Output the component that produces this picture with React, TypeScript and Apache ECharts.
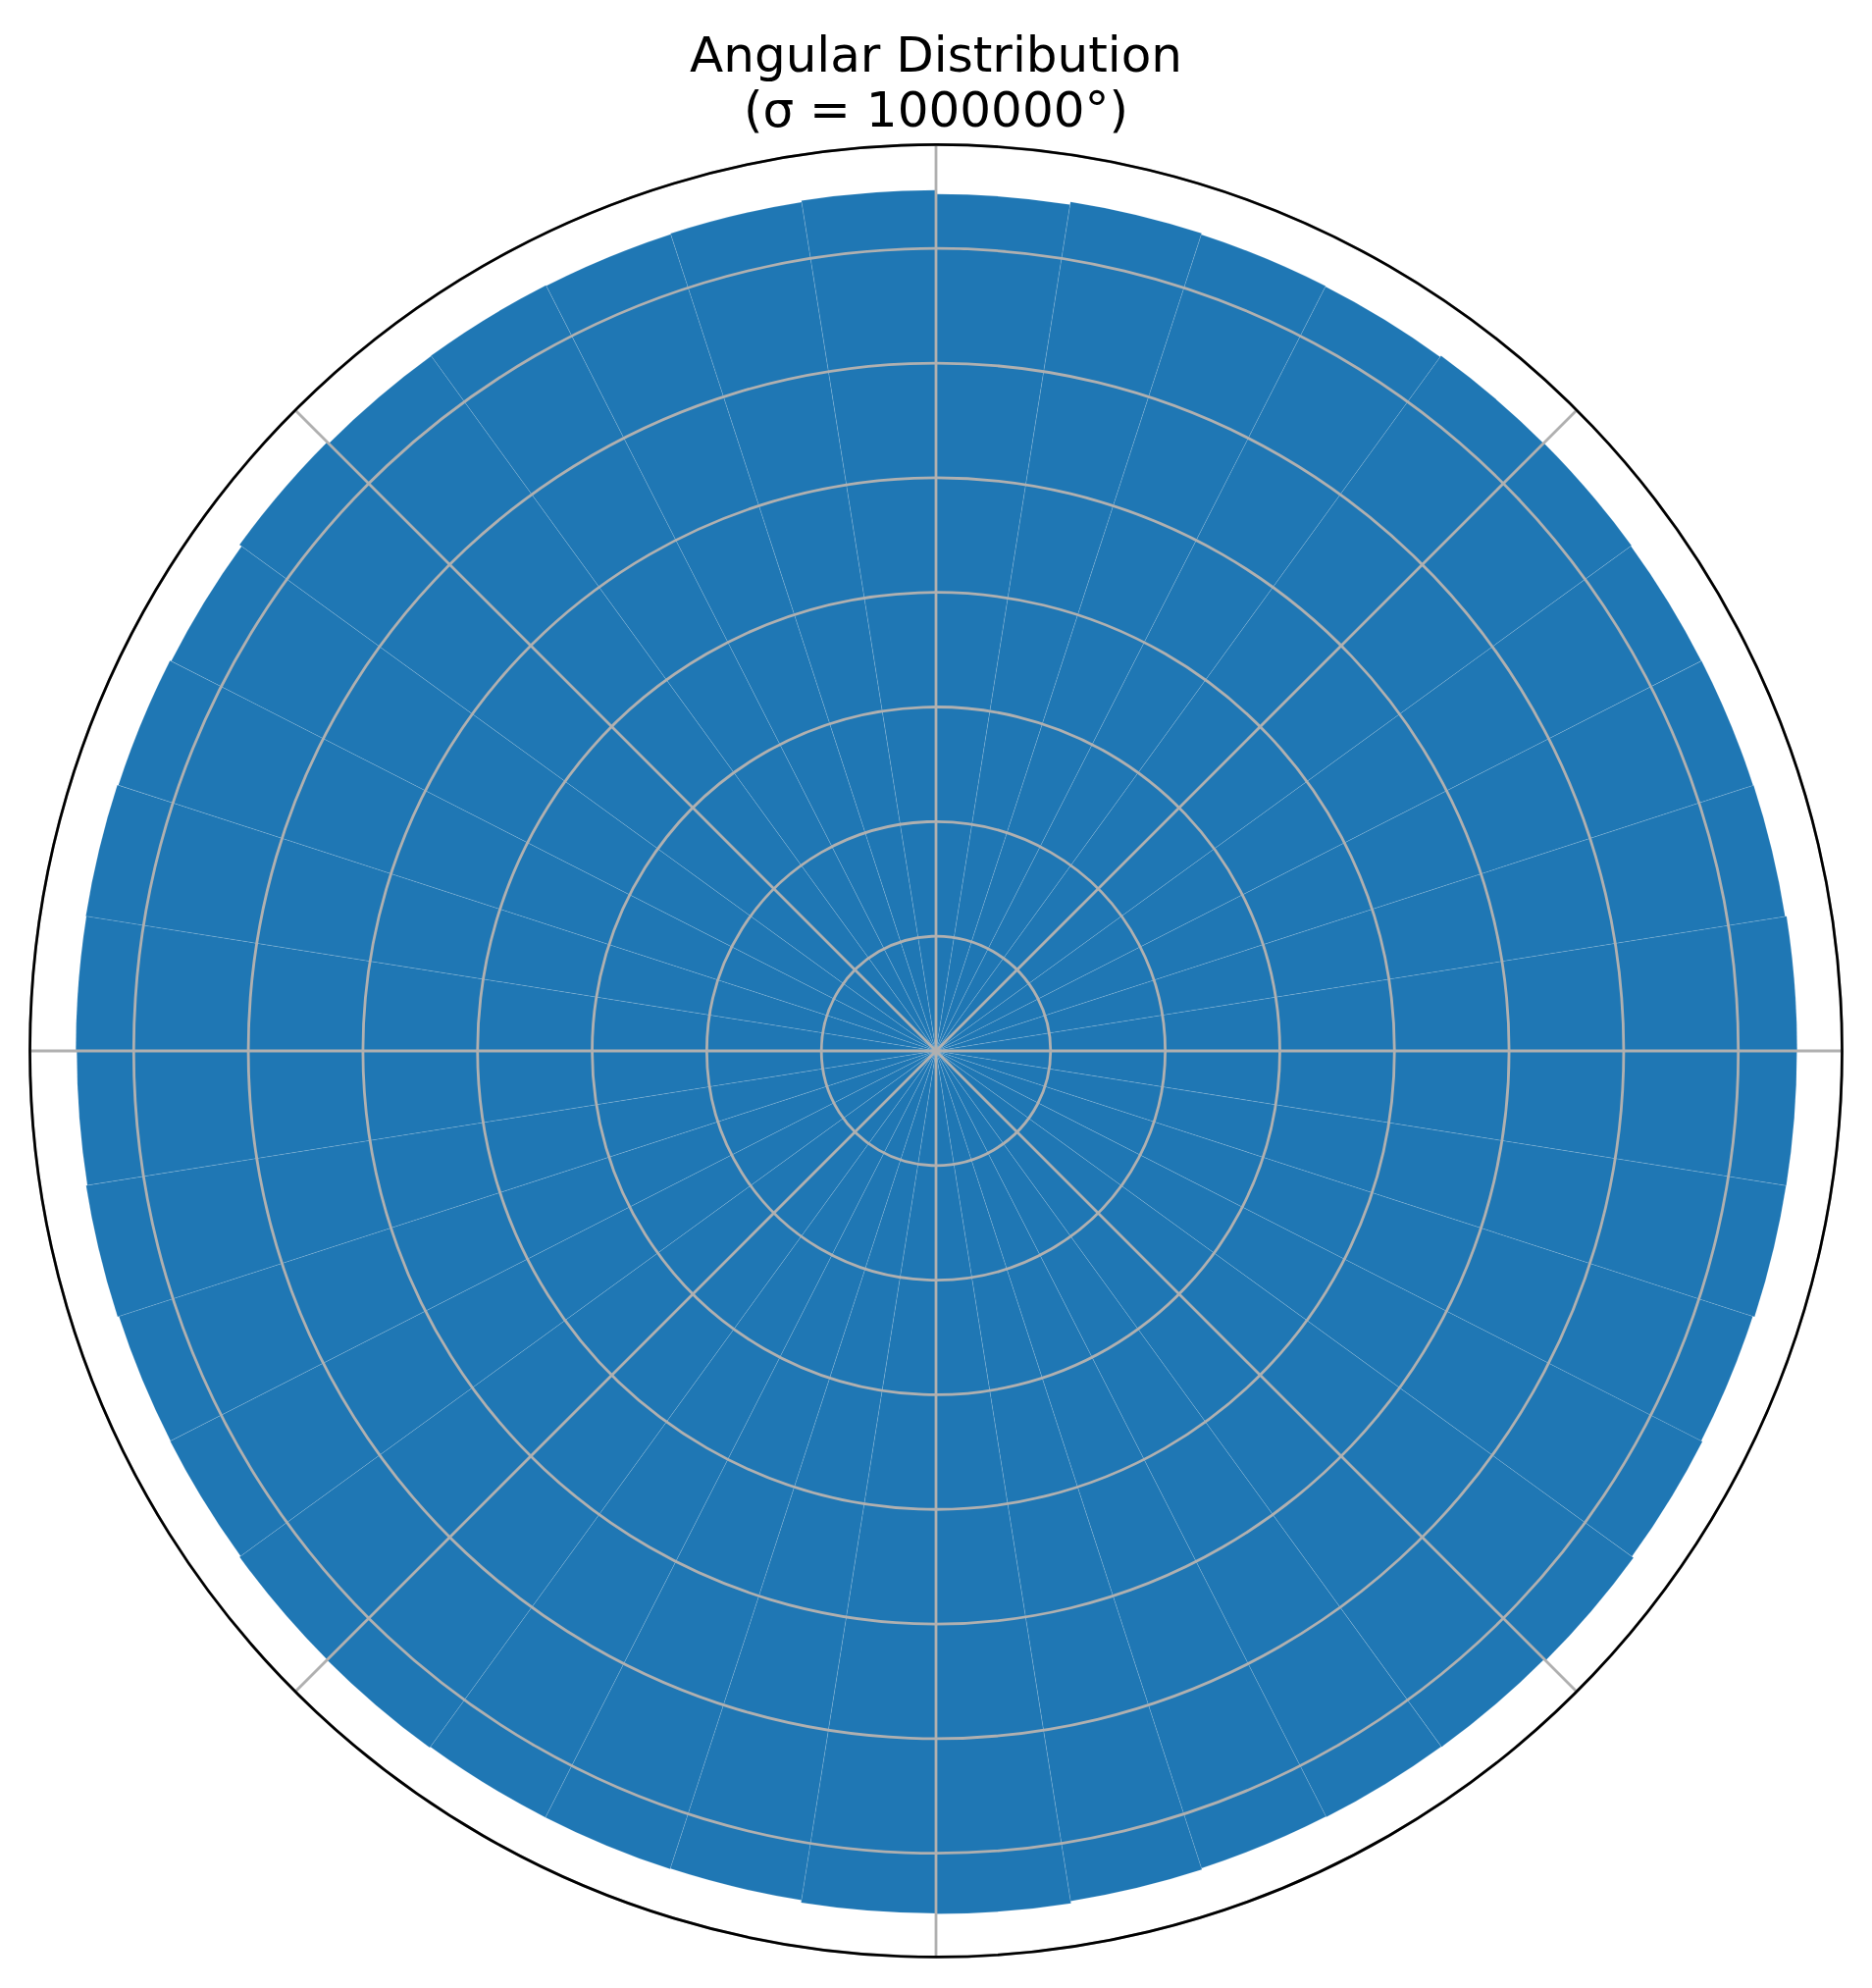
import React, { useEffect, useRef } from "react";
import * as echarts from "echarts";

// Bin start angles (degrees, counter-clockwise from east), 9° bins
const binStartDeg = [
  0, 9, 18, 27, 36, 45, 54, 63, 72, 81,
  90, 99, 108, 117, 126, 135, 144, 153, 162, 171,
  180, 189, 198, 207, 216, 225, 234, 243, 252, 261,
  270, 279, 288, 297, 306, 315, 324, 333, 342, 351,
];

// Counts per bin
const binCounts = [
  37568, 37504, 37483, 37470, 37504, 37483, 37419, 37440, 37500, 37376,
  37547, 37483, 37453, 37483, 37466, 37560, 37445, 37504, 37551, 37526,
  37483, 37539, 37479, 37496, 37556, 37568, 37526, 37526, 37504, 37620,
  37645, 37547, 37483, 37504, 37526, 37611, 37526, 37466, 37547, 37556,
];

const titleLines = ["Angular Distribution", "(σ = 1000000°)"];
const radialTickStep = 5000;
const radialMax = 39527;

export default function App() {
  const ref = useRef<HTMLDivElement>(null);

  useEffect(() => {
    if (!ref.current) return;
    const chart = echarts.init(ref.current, null, { renderer: "svg" });
    chart.setOption({
      animation: false,
      backgroundColor: "#ffffff",
      title: {
        text: titleLines.join("\n"),
        left: "center",
        top: 23,
        textStyle: {
          fontFamily: "DejaVu Sans",
          fontSize: 50,
          fontWeight: "normal",
          color: "#000000",
          lineHeight: 56,
        },
      },
      polar: {
        center: [954, 1071],
        radius: [0, 923.5],
      },
      angleAxis: {
        type: "category",
        data: binStartDeg.map((d) => String(d)),
        startAngle: 0,
        clockwise: false,
        boundaryGap: true,
        z: 10,
        axisLine: { show: true, lineStyle: { color: "#000000", width: 2.7 } },
        axisTick: { show: false, interval: 4 },
        axisLabel: { show: false },
        splitLine: {
          show: true,
          interval: 4,
          lineStyle: { color: "#b0b0b0", width: 2.8 },
        },
      },
      radiusAxis: {
        type: "value",
        min: 0,
        max: radialMax,
        interval: radialTickStep,
        z: 9,
        axisLine: { show: false },
        axisTick: { show: false },
        axisLabel: { show: false },
        splitLine: { show: true, lineStyle: { color: "#b0b0b0", width: 2.8 } },
      },
      series: [
        {
          type: "bar",
          coordinateSystem: "polar",
          data: binCounts,
          barCategoryGap: "0%",
          barGap: "0%",
          z: 2,
          itemStyle: {
            color: "#1f77b4",
            borderColor: "rgba(255,255,255,0.25)",
            borderWidth: 0.5,
          },
        },
      ],
    });
    return () => chart.dispose();
  }, []);

  return (
    <div
      ref={ref}
      style={{
        position: "fixed",
        left: 0,
        top: 0,
        width: 1908,
        height: 2026,
        background: "#ffffff",
      }}
    />
  );
}
